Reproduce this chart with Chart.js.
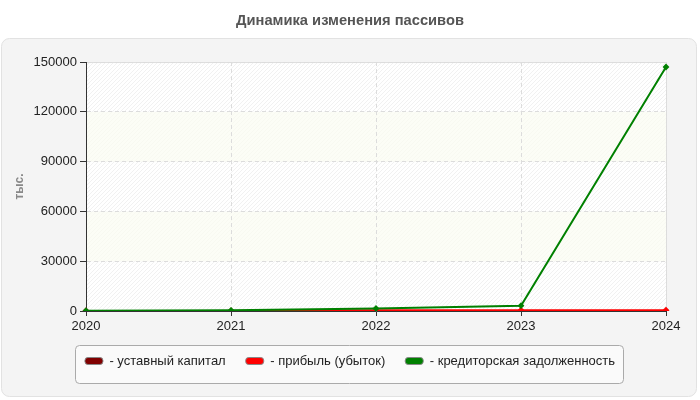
<!DOCTYPE html>
<html>
<head>
<meta charset="utf-8">
<script src="https://cdn.jsdelivr.net/npm/chart.js@4.4.0/dist/chart.umd.min.js"></script>
<style>
  html, body { margin: 0; padding: 0; background: #fff; }
</style>
</head>
<body>
<canvas id="myChart" width="700" height="400"></canvas>
<script>
const years = ["2020", "2021", "2022", "2023", "2024"];
const ustavCapital = [10, 10, 10, 10, 10];
const profit = [0, 0, 400, 500, 500];
const creditors = [200, 400, 1500, 3200, 147000];
const yTicks = [0, 30000, 60000, 90000, 120000, 150000];
const seriesNames = ["уставный капитал", "прибыль (убыток)", "кредиторская задолженность"];
const seriesColors = ["#800000", "#ff0000", "#008000"];

Chart.defaults.font.family = "'Liberation Sans', Arial, sans-serif";
Chart.defaults.color = "#222";

function makeHatch(ctx, bg, line) {
  const c = document.createElement("canvas");
  c.width = 4;
  c.height = 4;
  const g = c.getContext("2d");
  g.fillStyle = bg;
  g.fillRect(0, 0, 4, 4);
  g.strokeStyle = line;
  g.lineWidth = 1;
  g.beginPath();
  g.moveTo(0, 4); g.lineTo(4, 0);
  g.moveTo(-1, 1); g.lineTo(1, -1);
  g.moveTo(3, 5); g.lineTo(5, 3);
  g.stroke();
  return ctx.createPattern(c, "repeat");
}

// panel, striped plot background and legend frame
const backdrop = {
  id: "backdrop",
  beforeDraw(chart) {
    const ctx = chart.ctx;
    const area = chart.chartArea;
    const y = chart.scales.y;
    ctx.save();
    ctx.fillStyle = "#fff";
    ctx.fillRect(0, 0, chart.width, chart.height);

    ctx.beginPath();
    ctx.roundRect(1.5, 38.5, 695, 358, 8);
    ctx.fillStyle = "#f4f4f4";
    ctx.fill();
    ctx.strokeStyle = "#e2e2e2";
    ctx.lineWidth = 1;
    ctx.stroke();

    const white = makeHatch(ctx, "#ffffff", "#f1f1f1");
    const cream = makeHatch(ctx, "#fcfdf6", "#f8f9f1");
    for (let i = 0; i < yTicks.length - 1; i++) {
      const y0 = y.getPixelForValue(yTicks[i]);
      const y1 = y.getPixelForValue(yTicks[i + 1]);
      ctx.fillStyle = i % 2 === 0 ? white : cream;
      ctx.fillRect(area.left, y1, area.right - area.left, y0 - y1);
    }
    ctx.strokeStyle = "#dddddd";
    ctx.strokeRect(area.left + 0.5, area.top + 0.5, area.right - area.left, area.bottom - area.top);

    const hb = chart.legend.legendHitBoxes;
    if (hb && hb.length) {
      const last = hb[hb.length - 1];
      const l = hb[0].left - 10;
      const r = last.left + last.width + 8;
      const t = hb[0].top - 9.5;
      ctx.beginPath();
      ctx.roundRect(Math.round(l) + 0.5, Math.round(t) + 0.5, Math.round(r - l), 38, 4);
      ctx.fillStyle = "#fafafa";
      ctx.fill();
      ctx.strokeStyle = "#aaaaaa";
      ctx.stroke();
    }
    ctx.restore();
  }
};

const data = {
  labels: years,
  datasets: [
    { label: seriesNames[0], data: ustavCapital, order: 2 },
    { label: seriesNames[1], data: profit, order: 1 },
    { label: seriesNames[2], data: creditors, order: 0 },
  ].map((ds, i) => ({
    ...ds,
    borderColor: seriesColors[i],
    backgroundColor: seriesColors[i],
    borderWidth: 2,
    pointStyle: "rectRot",
    pointRadius: 2,
    pointHoverRadius: 2,
    tension: 0,
    fill: false,
  })),
};

const config = {
  type: "line",
  data: data,
  options: {
    responsive: false,
    animation: false,
    layout: {
      padding: { left: 0, right: 0, top: 0, bottom: 22.5 },
    },
    scales: {
      x: {
        offset: false,
        grid: { color: "#dcdcdc", tickColor: "#333", tickLength: 5, tickBorderDash: [] },
        border: { color: "#333", dash: [4, 3] },
        ticks: { color: "#222", font: { size: 13 }, padding: 3, maxRotation: 0 },
        afterFit: (s) => { s.height = 23.5; },
      },
      y: {
        min: 0,
        max: 150000,
        afterBuildTicks: (s) => { s.ticks = yTicks.map((v) => ({ value: v })); },
        grid: { color: "#dcdcdc", tickColor: "#333", tickLength: 6, tickBorderDash: [] },
        border: { color: "#333", dash: [4, 3] },
        ticks: { color: "#222", font: { size: 13 }, padding: 3, callback: (v) => String(v) },
        title: {
          display: true,
          text: "тыс.",
          color: "#888",
          font: { size: 12, weight: "bold" },
          padding: { top: 12, bottom: 0 },
        },
        afterFit: (s) => { s.width = 86; },
      },
      y2: {
        type: "linear",
        position: "right",
        display: true,
        grid: { display: false },
        border: { display: false },
        ticks: { display: false },
        afterFit: (s) => { s.width = 34; },
      },
    },
    plugins: {
      title: {
        display: true,
        text: "Динамика изменения пассивов",
        color: "#555",
        font: { size: 14.7, weight: "bold" },
        padding: { top: 12, bottom: 32.4 },
      },
      legend: {
        position: "bottom",
        labels: {
          color: "#222",
          font: { size: 13 },
          boxWidth: 18,
          boxHeight: 7,
          padding: 20,
          useBorderRadius: true,
          borderRadius: 3,
          generateLabels: (chart) =>
            chart.data.datasets.map((ds, i) => ({
              text: "- " + ds.label,
              fillStyle: ds.borderColor,
              strokeStyle: "#888",
              lineWidth: 1,
              borderRadius: 3,
              hidden: false,
              datasetIndex: i,
              fontColor: "#222",
            })),
        },
      },
      tooltip: { enabled: false },
    },
  },
  plugins: [backdrop],
};

const myChart = new Chart(document.getElementById("myChart"), config);
</script>
</body>
</html>
